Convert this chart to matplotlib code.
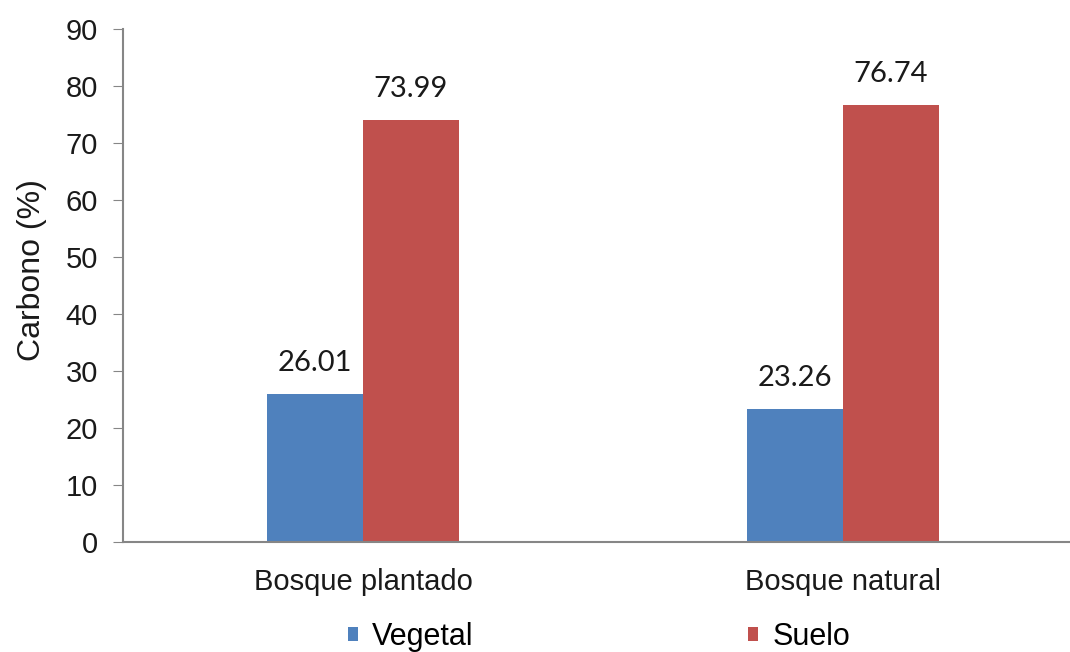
import matplotlib
matplotlib.use("Agg")
import matplotlib.pyplot as plt
import numpy as np

categories = ["Bosque plantado", "Bosque natural"]
vegetal = [26.01, 23.26]
suelo = [73.99, 76.74]
series_names = ["Vegetal", "Suelo"]
yticks = [0, 10, 20, 30, 40, 50, 60, 70, 80, 90]

plt.rcParams['font.family'] = ['Liberation Sans', 'DejaVu Sans']

fig = plt.figure(figsize=(10.7, 6.52), dpi=100)
ax = fig.add_axes([123/1070, 110/652, 960/1070, 513/652])

x = np.arange(len(categories))
w = 0.2
b1 = ax.bar(x - w/2, vegetal, w, color="#4F81BD", label=series_names[0])
b2 = ax.bar(x + w/2, suelo, w, color="#C0504D", label=series_names[1])

for bars, vals in ((b1, vegetal), (b2, suelo)):
    for r, v in zip(bars, vals):
        ax.annotate(f"{v:.2f}", (r.get_x() + r.get_width()/2, v),
                    xytext=(0, 13), textcoords="offset points",
                    ha="center", va="bottom", fontsize=21, family=["Lato", "DejaVu Sans"],
                    color="#1a1a1a")

ax.set_xlim(-0.5, 1.5)
ax.set_ylim(0, 90)
ax.set_yticks(yticks)
ax.set_xticks(x)
ax.set_xticklabels(categories, fontsize=21)
ax.tick_params(axis='y', labelsize=21, length=7, color="#868686", pad=11)
ax.tick_params(axis='x', length=0, pad=19)
for lab in ax.get_yticklabels() + ax.get_xticklabels():
    lab.set_color("#1a1a1a")
for s in ("top", "right"):
    ax.spines[s].set_visible(False)
for s in ("left", "bottom"):
    ax.spines[s].set_color("#868686")
    ax.spines[s].set_linewidth(1.5)

ax.set_ylabel("Carbono (%)", fontsize=23, color="#1a1a1a")
ax.yaxis.set_label_coords(-0.079, 0.53)

for handle, name, xpx in ((b1, series_names[0], 348), (b2, series_names[1], 748)):
    fig.legend(handles=[handle], labels=[name], loc="center left",
               bbox_to_anchor=(xpx/1070, 1 - 637/652), frameon=False, fontsize=22,
               borderpad=0, borderaxespad=0,
               handlelength=0.34, handleheight=0.34, handletextpad=0.45)

fig.savefig("out.png", dpi=100)
